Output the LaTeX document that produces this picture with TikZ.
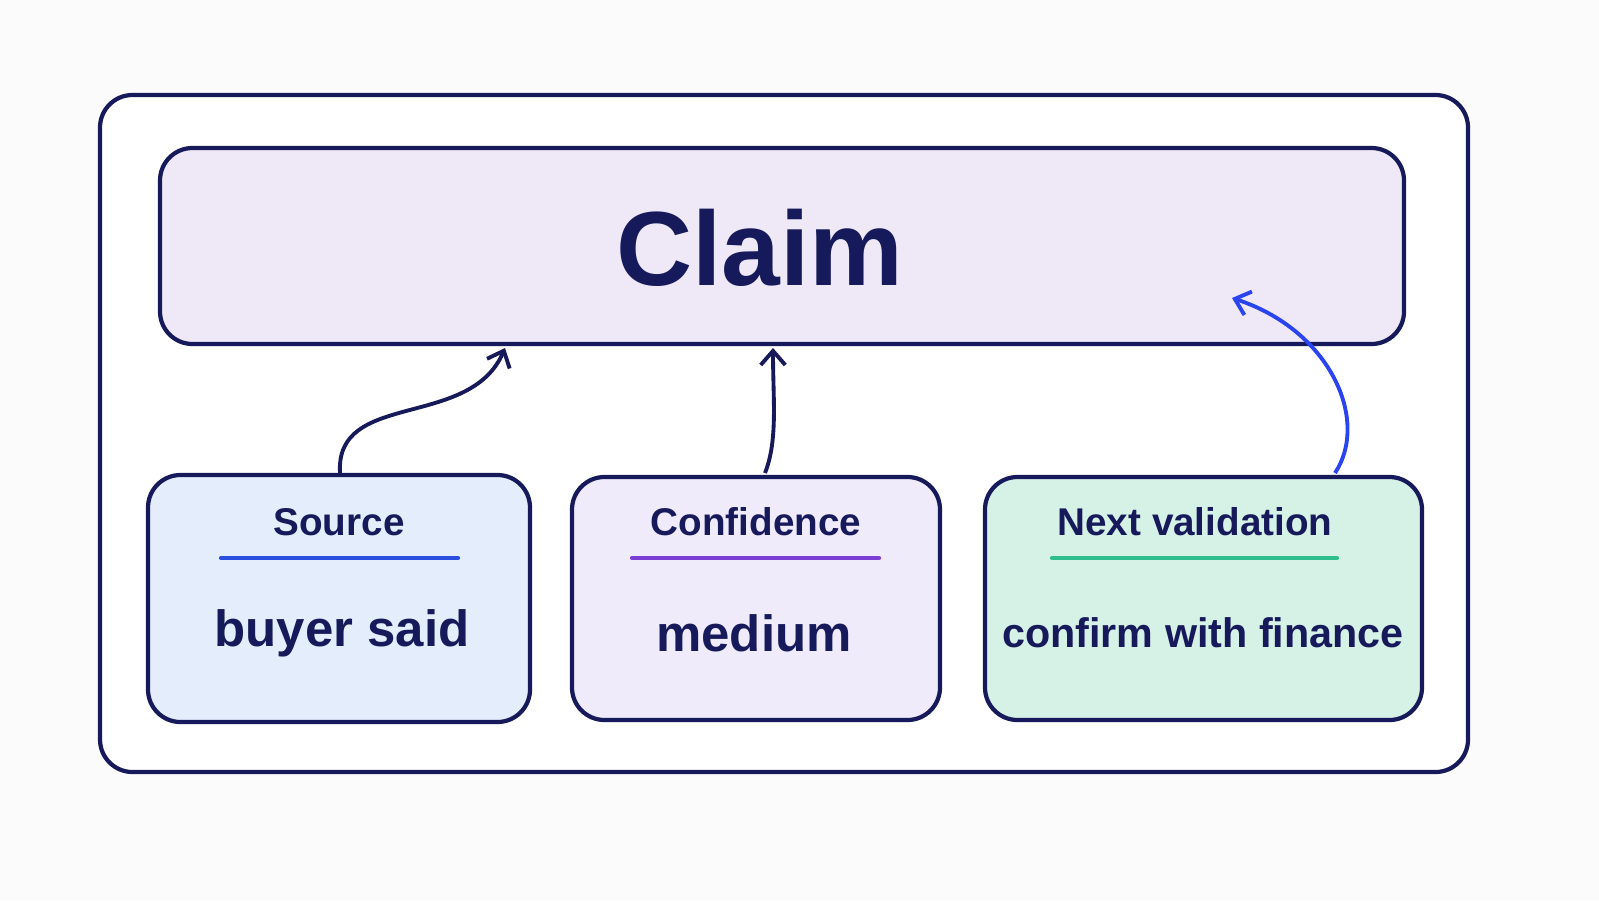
\documentclass[tikz,border=0pt]{standalone}
\usepackage{fontspec}
\setmainfont{Liberation Sans}
\usetikzlibrary{arrows.meta}
\definecolor{navy}{HTML}{16195A}
\definecolor{claimf}{HTML}{EFE9F7}
\definecolor{srcf}{HTML}{E3EDFB}
\definecolor{conff}{HTML}{EFEBFA}
\definecolor{nextf}{HTML}{D6F2E6}
\definecolor{lblue}{HTML}{2A4FE0}
\definecolor{lpurp}{HTML}{7B3FD6}
\definecolor{lgreen}{HTML}{2FBF8F}
\definecolor{abl}{HTML}{2A45F0}
\begin{document}
\begin{tikzpicture}[x=0.02cm,y=-0.02cm,
  box/.style={draw=navy,line width=2.4pt,rounded corners=0.65cm},
  ttl/.style={text=navy,font=\bfseries\fontsize{22}{26}\selectfont},
  val/.style={text=navy,font=\bfseries\fontsize{29}{34}\selectfont},
  arr/.style={draw=navy,line width=2.2pt,-{Straight Barb[length=8pt,width=14pt]}}]
\useasboundingbox[fill=white!97!gray] (0,0) rectangle (1599,900);
\draw[box,fill=white] (100,95) rectangle (1468,772);
\draw[box,fill=claimf] (160,148) rectangle (1404,344);
\node[text=navy,font=\bfseries\fontsize{60}{70}\selectfont] (claim) at (760,248) {Claim};
\draw[box,fill=srcf] (148,475) rectangle (530,722);
\draw[box,fill=conff] (572,477) rectangle (940,720);
\draw[box,fill=nextf] (985,477) rectangle (1422,720);
\node[ttl] (t1) at (339,522) {Source};
\node[ttl] (t2) at (756,522) {Confidence};
\node[ttl] (t3) at (1195,522) {Next validation};
\draw[lblue,line width=2.4pt,line cap=round] (221,558) -- (458,558);
\draw[lpurp,line width=2.4pt,line cap=round] (632,558) -- (879,558);
\draw[lgreen,line width=2.4pt,line cap=round] (1052,558) -- (1337,558);
\node[val] (v1) at (342,633) {buyer said};
\node[val] (v2) at (754,633) {medium};
\node[val,font=\bfseries\fontsize{23.5}{28}\selectfont] (v3) at (1203,633) {confirm with finance};
\coordinate (s1) at (340,473); \coordinate (e1) at (505,348);
\coordinate (s2) at (765,473); \coordinate (e2) at (773,348);
\coordinate (s3) at (1335,473); \coordinate (e3) at (1232,298);
\draw[arr] (s1) .. controls (335,390) and (470,430) .. (e1);
\draw[arr] (s2) .. controls (778,440) and (773,400) .. (e2);
\draw[arr,draw=abl] (s3) .. controls (1370,420) and (1330,330) .. (e3);
\end{tikzpicture}
\end{document}
